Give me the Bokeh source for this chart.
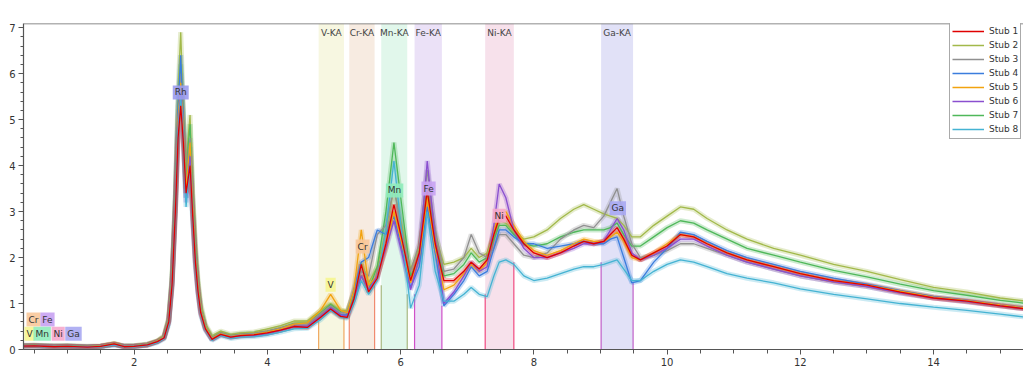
from bokeh.plotting import figure
from bokeh.models import FixedTicker, Label, Legend, LegendItem, Span, Range1d
from bokeh.embed import file_html
from bokeh.resources import INLINE

# ---------------- data ----------------
energy_kev = [
    0.3, 0.5, 0.8, 1.0, 1.3, 1.5, 1.7, 1.85, 2.0, 2.2,
    2.35, 2.45, 2.52, 2.57, 2.62, 2.66, 2.70, 2.74, 2.78, 2.81,
    2.84, 2.88, 2.92, 2.96, 3.0, 3.07, 3.17, 3.3, 3.45, 3.6,
    3.8, 4.0, 4.2, 4.4, 4.6, 4.8, 4.95, 5.1, 5.2, 5.3,
    5.41, 5.52, 5.65, 5.78, 5.9, 6.02, 6.15, 6.28, 6.4, 6.52,
    6.65, 6.8, 6.95, 7.06, 7.18, 7.3, 7.4, 7.48, 7.58, 7.7,
    7.85, 8.0, 8.2, 8.4, 8.6, 8.75, 8.9, 9.05, 9.15, 9.25,
    9.35, 9.47, 9.6, 9.8, 10.0, 10.2, 10.4, 10.6, 10.9, 11.2,
    11.6, 12.0, 12.5, 13.0, 13.5, 14.0, 14.5, 15.0, 15.4,
]

stub1 = [
    0.07, 0.08, 0.06, 0.07, 0.05, 0.07, 0.12, 0.06, 0.07, 0.10,
    0.17, 0.25, 0.60, 1.40, 3.00, 4.60, 5.30, 4.50, 3.40, 3.70,
    4.00, 2.90, 1.90, 1.25, 0.80, 0.45, 0.22, 0.33, 0.27, 0.30,
    0.32, 0.36, 0.42, 0.50, 0.48, 0.70, 0.88, 0.72, 0.70, 1.10,
    1.85, 1.25, 1.55, 2.30, 3.15, 2.40, 1.50, 2.10, 3.45, 2.30,
    1.50, 1.50, 1.70, 1.90, 1.75, 1.95, 2.50, 2.85, 2.90, 2.60,
    2.30, 2.10, 2.00, 2.10, 2.25, 2.35, 2.30, 2.35, 2.50, 2.65,
    2.40, 2.05, 1.95, 2.10, 2.25, 2.50, 2.45, 2.30, 2.10, 1.95,
    1.80, 1.65, 1.50, 1.40, 1.25, 1.12, 1.05, 0.95, 0.88,
]
stub2 = [
    0.09, 0.09, 0.08, 0.08, 0.07, 0.08, 0.13, 0.08, 0.08, 0.12,
    0.19, 0.30, 0.70, 1.60, 3.40, 5.60, 6.90, 5.20, 3.60, 4.60,
    5.10, 3.40, 2.30, 1.50, 1.00, 0.55, 0.30, 0.40, 0.33, 0.36,
    0.38, 0.45, 0.52, 0.62, 0.62, 0.85, 1.00, 0.85, 0.85, 1.20,
    1.90, 1.45, 1.80, 2.60, 3.50, 2.70, 1.75, 2.20, 3.30, 2.50,
    1.85, 1.90, 2.00, 2.20, 2.00, 2.10, 2.50, 2.80, 2.75, 2.55,
    2.40, 2.45, 2.60, 2.85, 3.05, 3.15, 3.05, 2.95, 2.90, 2.85,
    2.70, 2.45, 2.45, 2.70, 2.90, 3.10, 3.05, 2.85, 2.60, 2.40,
    2.20, 2.05, 1.85, 1.70, 1.52, 1.35, 1.25, 1.12, 1.05,
]
stub3 = [
    0.08, 0.08, 0.07, 0.07, 0.06, 0.07, 0.12, 0.07, 0.07, 0.11,
    0.18, 0.27, 0.65, 1.50, 3.20, 5.00, 6.00, 4.90, 3.30, 4.20,
    4.60, 3.20, 2.10, 1.40, 0.90, 0.50, 0.26, 0.36, 0.30, 0.33,
    0.35, 0.40, 0.47, 0.56, 0.56, 0.78, 0.95, 0.80, 0.80, 1.25,
    1.70, 1.60, 2.50, 2.70, 3.50, 2.60, 1.70, 2.30, 3.90, 2.60,
    1.70, 1.75, 2.00, 2.50, 2.10, 2.00, 2.20, 2.50, 2.50, 2.30,
    2.05, 2.00, 2.10, 2.40, 2.60, 2.70, 2.65, 2.90, 3.20, 3.50,
    2.90, 2.30, 2.00, 2.05, 2.15, 2.30, 2.30, 2.20, 2.05, 1.90,
    1.75, 1.60, 1.47, 1.37, 1.23, 1.12, 1.04, 0.95, 0.88,
]
stub4 = [
    0.08, 0.08, 0.07, 0.07, 0.06, 0.07, 0.11, 0.07, 0.07, 0.10,
    0.17, 0.26, 0.62, 1.50, 3.30, 5.30, 6.40, 5.00, 3.30, 3.90,
    4.40, 3.00, 2.00, 1.30, 0.85, 0.47, 0.22, 0.33, 0.27, 0.30,
    0.31, 0.35, 0.42, 0.50, 0.50, 0.72, 0.90, 0.75, 0.75, 1.30,
    1.90, 2.00, 2.60, 2.50, 2.90, 2.20, 1.35, 1.80, 3.10, 2.10,
    0.95, 1.20, 1.50, 1.80, 1.60, 1.70, 2.20, 2.60, 2.60, 2.45,
    2.30, 2.30, 2.20, 2.25, 2.30, 2.35, 2.30, 2.30, 2.40, 2.45,
    2.00, 1.45, 1.50, 1.90, 2.20, 2.55, 2.50, 2.35, 2.15, 2.00,
    1.85, 1.70, 1.55, 1.42, 1.28, 1.15, 1.07, 0.97, 0.90,
]
stub5 = [
    0.08, 0.08, 0.07, 0.07, 0.06, 0.07, 0.12, 0.07, 0.07, 0.10,
    0.18, 0.27, 0.62, 1.50, 3.20, 5.00, 5.80, 4.80, 3.50, 4.00,
    4.50, 3.10, 2.00, 1.35, 0.85, 0.48, 0.24, 0.34, 0.28, 0.31,
    0.33, 0.38, 0.45, 0.55, 0.58, 0.85, 1.20, 0.85, 0.80, 1.30,
    2.60, 1.40, 1.60, 2.20, 3.00, 2.30, 1.45, 2.00, 3.30, 2.20,
    1.30, 1.40, 1.65, 1.85, 1.70, 1.90, 2.60, 2.95, 3.00, 2.70,
    2.35, 2.15, 2.05, 2.15, 2.30, 2.40, 2.35, 2.35, 2.45, 2.55,
    2.35, 2.00, 1.95, 2.10, 2.30, 2.50, 2.45, 2.30, 2.10, 1.95,
    1.80, 1.65, 1.50, 1.40, 1.27, 1.14, 1.06, 0.97, 0.90,
]
stub6 = [
    0.08, 0.08, 0.07, 0.07, 0.06, 0.07, 0.11, 0.07, 0.07, 0.10,
    0.17, 0.26, 0.60, 1.45, 3.10, 4.80, 5.60, 4.60, 3.20, 3.70,
    4.20, 2.90, 1.90, 1.25, 0.80, 0.45, 0.22, 0.32, 0.27, 0.30,
    0.31, 0.35, 0.42, 0.50, 0.50, 0.72, 0.90, 0.75, 0.72, 1.10,
    1.60, 1.30, 1.60, 2.20, 2.80, 2.10, 1.30, 2.00, 4.10, 2.40,
    1.00, 1.25, 1.60, 1.90, 1.70, 1.80, 2.70, 3.60, 3.30, 2.60,
    2.20, 2.00, 2.00, 2.10, 2.20, 2.30, 2.30, 2.35, 2.60, 2.85,
    2.60, 2.10, 1.95, 2.05, 2.20, 2.40, 2.40, 2.25, 2.05, 1.90,
    1.75, 1.60, 1.47, 1.37, 1.23, 1.12, 1.04, 0.95, 0.88,
]
stub7 = [
    0.08, 0.09, 0.07, 0.08, 0.06, 0.07, 0.12, 0.07, 0.08, 0.11,
    0.18, 0.28, 0.66, 1.55, 3.30, 5.20, 6.20, 5.00, 3.50, 4.40,
    4.90, 3.30, 2.20, 1.40, 0.90, 0.50, 0.26, 0.36, 0.30, 0.33,
    0.35, 0.40, 0.47, 0.57, 0.58, 0.80, 0.98, 0.82, 0.80, 1.15,
    1.60, 1.30, 1.80, 3.00, 4.50, 3.10, 1.60, 2.00, 3.50, 2.30,
    1.60, 1.65, 1.85, 2.10, 1.90, 2.00, 2.40, 2.70, 2.70, 2.50,
    2.30, 2.25, 2.30, 2.45, 2.55, 2.60, 2.60, 2.60, 2.65, 2.75,
    2.50, 2.25, 2.25, 2.45, 2.65, 2.80, 2.75, 2.60, 2.40, 2.20,
    2.05, 1.90, 1.72, 1.58, 1.42, 1.28, 1.18, 1.07, 1.00,
]
stub8 = [
    0.07, 0.07, 0.06, 0.06, 0.05, 0.06, 0.10, 0.06, 0.06, 0.09,
    0.15, 0.23, 0.55, 1.35, 3.00, 4.70, 5.50, 4.50, 3.10, 3.60,
    4.00, 2.80, 1.80, 1.20, 0.75, 0.42, 0.20, 0.30, 0.24, 0.27,
    0.28, 0.32, 0.38, 0.45, 0.46, 0.65, 0.85, 0.70, 0.68, 1.00,
    1.50, 1.20, 1.50, 2.60, 4.10, 2.50, 0.90, 1.40, 3.00, 1.70,
    1.05, 1.05, 1.20, 1.35, 1.20, 1.15, 1.60, 1.90, 1.95, 1.85,
    1.60, 1.50, 1.55, 1.65, 1.75, 1.80, 1.80, 1.85, 1.90, 1.95,
    1.75, 1.50, 1.50, 1.70, 1.85, 1.95, 1.90, 1.80, 1.65, 1.55,
    1.45, 1.32, 1.20, 1.10, 1.00, 0.92, 0.85, 0.77, 0.70,
]

series_values = [stub1, stub2, stub3, stub4, stub5, stub6, stub7, stub8]
series_labels = ["Stub 1", "Stub 2", "Stub 3", "Stub 4",
                 "Stub 5", "Stub 6", "Stub 7", "Stub 8"]
series_colors = ["#e00000", "#a2b94a", "#909090", "#3b7ddd",
                 "#f2a30f", "#8a4fcf", "#4fb85a", "#45b3d3"]

band_names = ["V-KA", "Cr-KA", "Mn-KA", "Fe-KA", "Ni-KA", "Ga-KA"]
band_lo = [4.77, 5.23, 5.71, 6.21, 7.27, 9.01]
band_hi = [5.15, 5.61, 6.10, 6.62, 7.70, 9.49]
band_fill = ["#f7f7e1", "#f7ebe1", "#e1f7eb", "#ebe1f7", "#f7e1eb", "#e1e1f7"]
band_edge = ["#f0a860", "#f08a70", "#a8b880", "#d050c8", "#f04a80", "#c060c8"]
band_edge_lo_h = [0.60, 0.75, 1.40, 1.20, 1.20, 1.90]
band_edge_hi_h = [0.75, 1.40, 1.20, 0.95, 1.90, 1.45]

peak_names = ["Rh", "V", "Cr", "Mn", "Fe", "Ni", "Ga"]
peak_kev = [2.70, 4.95, 5.43, 5.91, 6.42, 7.48, 9.26]
peak_y = [5.59, 1.41, 2.24, 3.46, 3.50, 2.91, 3.07]
peak_fill = ["#9b9bf0", "#f5f590", "#f8c89a", "#90ecbb", "#c8a2f2", "#f5a8cc", "#a9a9f2"]

key_names = ["Cr", "Fe", "V", "Mn", "Ni", "Ga"]
key_kev = [0.49, 0.70, 0.43, 0.62, 0.86, 1.09]
key_y = [0.65, 0.65, 0.34, 0.34, 0.34, 0.34]
key_fill = ["#f8c89a", "#c8a2f2", "#f5f590", "#90ecbb", "#f5a8cc", "#a9a9f2"]

x_ticks = [2, 4, 6, 8, 10, 12, 14]
y_ticks = [0, 1, 2, 3, 4, 5, 6, 7]

# ---------------- figure ----------------
X0, X1 = 0.34, 15.35
Y0, Y1 = 0.0, 7.09
FONT = "DejaVu Sans"
FRAME_H = 376 - 23 - 27

p = figure(width=1023, height=376, output_backend="svg", toolbar_location=None,
           x_range=Range1d(X0, X1), y_range=Range1d(Y0, Y1),
           min_border_left=23, min_border_right=0, min_border_top=23,
           min_border_bottom=27)
p.outline_line_color = None
p.xgrid.visible = False
p.ygrid.visible = False
p.background_fill_color = "white"

p.xaxis.ticker = FixedTicker(ticks=x_ticks,
                             minor_ticks=[0.5 * i for i in range(1, 31)])
p.yaxis.ticker = FixedTicker(ticks=y_ticks,
                             minor_ticks=[0.2 * i for i in range(0, 36)])
for ax in (p.xaxis[0], p.yaxis[0]):
    ax.axis_line_color = "#555555"
    ax.axis_line_width = 1.2
    ax.major_tick_line_color = "#555555"
    ax.minor_tick_line_color = "#555555"
    ax.major_tick_in = 0
    ax.minor_tick_in = 0
    ax.major_label_text_font = FONT
    ax.major_label_text_font_size = "10px"
    ax.major_label_text_color = "#333333"
p.xaxis.major_tick_out = 5
p.xaxis.minor_tick_out = 4
p.xaxis.major_label_standoff = 3
p.yaxis.major_tick_out = 5
p.yaxis.minor_tick_out = 3
p.yaxis.major_label_standoff = 3

p.add_layout(Span(location=Y1, dimension="width", line_color="#666666",
                  line_width=1.5))

# element bands
p.quad(left=band_lo, right=band_hi, bottom=Y0, top=Y1, fill_color=band_fill,
       line_color=None)
p.segment(x0=band_lo, y0=[Y0] * len(band_lo), x1=band_lo, y1=band_edge_lo_h,
          line_color=band_edge, line_width=1.2)
p.segment(x0=band_hi, y0=[Y0] * len(band_hi), x1=band_hi, y1=band_edge_hi_h,
          line_color=band_edge, line_width=1.2)
for name, lo, hi in zip(band_names, band_lo, band_hi):
    p.add_layout(Label(x=(lo + hi) / 2, y=Y1, y_offset=-4, text=name,
                       text_align="center", text_baseline="top",
                       text_font=FONT, text_font_size="9px",
                       text_color="#444444"))

# spectra: a soft wide stroke under each line suggests the counting noise band
renderers = {}
order = [1, 6, 2, 3, 4, 5, 7, 0]
for i in order:
    p.line(energy_kev, series_values[i], line_color=series_colors[i],
           line_width=5, line_alpha=0.28)
for i in order:
    r = p.line(energy_kev, series_values[i], line_color=series_colors[i],
               line_width=1.3)
    renderers[i] = r

# peak identification tags
for name, xk, yk, fc in zip(peak_names, peak_kev, peak_y, peak_fill):
    p.add_layout(Label(x=xk, y=yk, text=name, text_align="center",
                       text_baseline="middle", text_font=FONT,
                       text_font_size="9px", text_color="#333333",
                       background_fill_color=fc, background_fill_alpha=0.9,
                       padding=2))
for name, xk, yk, fc in zip(key_names, key_kev, key_y, key_fill):
    p.add_layout(Label(x=xk, y=yk, text=name, text_align="center",
                       text_baseline="middle", text_font=FONT,
                       text_font_size="9px", text_color="#333333",
                       background_fill_color=fc, background_fill_alpha=0.9,
                       padding=2))

# axis captions
p.add_layout(Label(x=X0, y=Y1, x_offset=2, y_offset=2, text="cps/eV",
                   text_baseline="bottom", text_font=FONT,
                   text_font_size="10px", text_color="#333333"))
p.add_layout(Label(x=8.0, y=Y0, y_offset=-16, text="keV", text_align="center",
                   text_baseline="top", text_font=FONT,
                   text_font_size="9px", text_color="#333333"))

# legend in the top-right corner of the frame
items = [LegendItem(label=series_labels[i], renderers=[renderers[i]])
         for i in range(8)]
LEG_H = 8 * 14 + 2 * 2
legend = Legend(items=items, location=(926, FRAME_H - LEG_H),
                orientation="vertical",
                label_text_font=FONT, label_text_font_size="9px",
                label_text_color="#333333", glyph_width=32, glyph_height=14,
                label_height=14, label_standoff=5, spacing=0, padding=2,
                margin=0, border_line_color="#555555", border_line_width=1,
                background_fill_color="white", background_fill_alpha=1.0)
p.add_layout(legend)

open("out.html", "w").write(file_html(p, INLINE))
